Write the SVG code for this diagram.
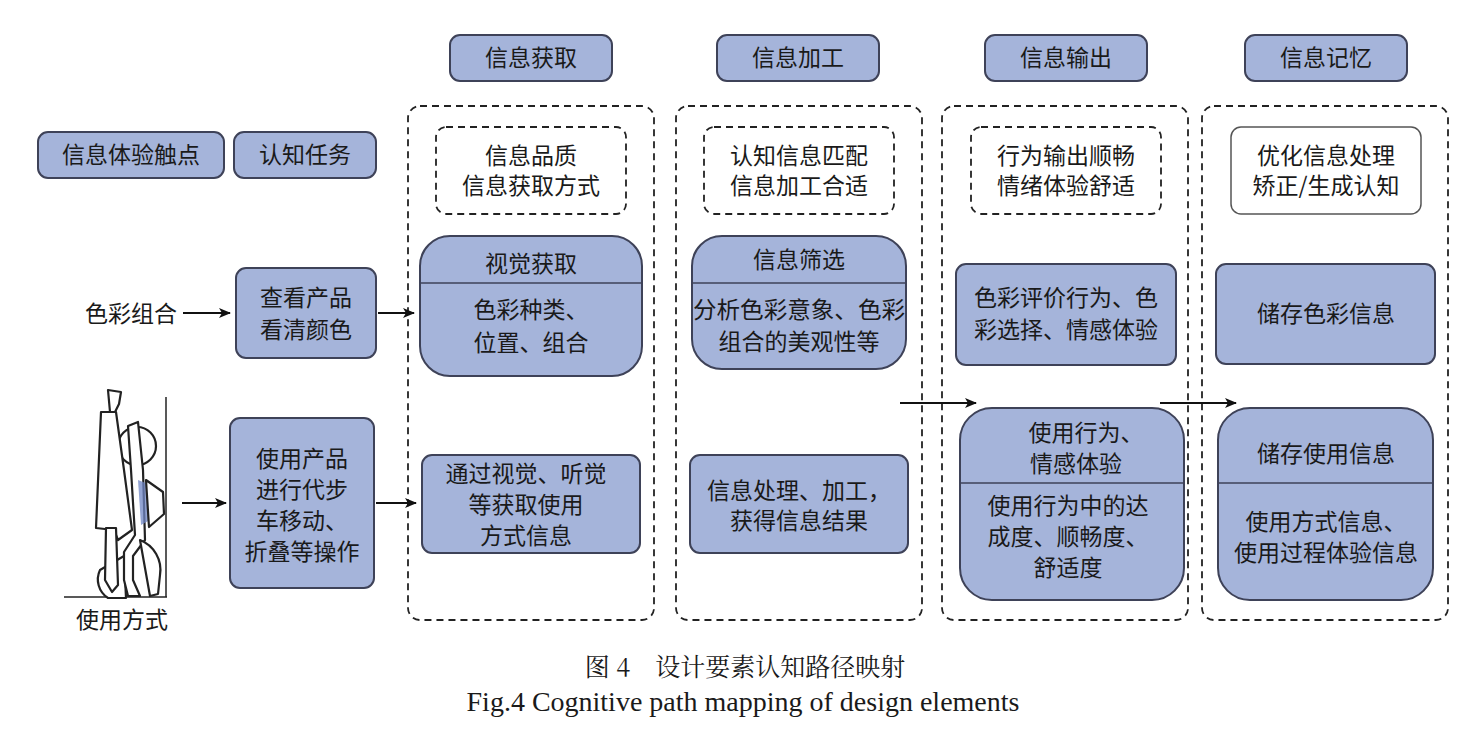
<svg xmlns="http://www.w3.org/2000/svg" width="1466" height="732" viewBox="0 0 1466 732">
<style>
.f{fill:#a5b4da;stroke:#3e4258;stroke-width:2}
.d{fill:none;stroke:#222;stroke-width:1.8;stroke-dasharray:7,5}
.t{font-family:"Noto Sans CJK SC",sans-serif;font-size:23px;fill:#1a1a1a;text-anchor:middle}
.c{stroke:#111;stroke-width:1.8;fill:none;marker-end:url(#a)}
.s{fill:#fff;stroke:#222;stroke-width:2.2;stroke-linejoin:round}
</style>
<defs><marker id="a" markerWidth="12" markerHeight="10" refX="11" refY="5" orient="auto" markerUnits="userSpaceOnUse"><path d="M0,0 L12,5 L0,10 L3,5 Z" fill="#111"/></marker></defs>
<rect width="1466" height="732" fill="#fff"/>
<g id="headers">
<rect class="f" x="450" y="35" width="162" height="46" rx="10"/><text class="t" x="531" y="66">信息获取</text>
<rect class="f" x="717" y="35" width="162" height="46" rx="10"/><text class="t" x="798" y="66">信息加工</text>
<rect class="f" x="985" y="35" width="162" height="46" rx="10"/><text class="t" x="1066" y="66">信息输出</text>
<rect class="f" x="1245" y="35" width="162" height="46" rx="10"/><text class="t" x="1326" y="66">信息记忆</text>
<rect class="f" x="38" y="132" width="186" height="46" rx="10"/><text class="t" x="131" y="163">信息体验触点</text>
<rect class="f" x="234" y="132" width="142" height="46" rx="10"/><text class="t" x="305" y="163">认知任务</text>
</g>
<g id="columns">
<rect class="d" x="408" y="106" width="246" height="514" rx="12"/>
<rect class="d" x="676" y="106" width="246" height="514" rx="12"/>
<rect class="d" x="942" y="106" width="246" height="514" rx="12"/>
<rect class="d" x="1202" y="106" width="246" height="514" rx="12"/>
</g>
<g id="goals">
<rect class="d" x="436" y="127" width="190" height="87" rx="10"/><text class="t" x="531" y="164">信息品质</text><text class="t" x="531" y="194">信息获取方式</text>
<rect class="d" x="704" y="127" width="190" height="87" rx="10"/><text class="t" x="799" y="164">认知信息匹配</text><text class="t" x="799" y="194">信息加工合适</text>
<rect class="d" x="971" y="127" width="190" height="87" rx="10"/><text class="t" x="1066" y="164">行为输出顺畅</text><text class="t" x="1066" y="194">情绪体验舒适</text>
<rect x="1231" y="127" width="190" height="87" rx="10" fill="#fff" stroke="#555" stroke-width="1.5"/><text class="t" x="1326" y="164">优化信息处理</text><text class="t" x="1326" y="194">矫正/生成认知</text>
</g>
<g id="n1"><rect class="f" x="420" y="236" width="222" height="140" rx="30"/><line x1="420" y1="283" x2="642" y2="283" stroke="#3e4258" stroke-width="1.5"/>
<text class="t" x="531" y="272">视觉获取</text><text class="t" x="531" y="318">色彩种类、</text><text class="t" x="531" y="351">位置、组合</text></g>
<g id="n2"><rect class="f" x="422" y="455" width="218" height="98" rx="10"/><text class="t" x="526" y="482">通过视觉、听觉</text><text class="t" x="526" y="513">等获取使用</text><text class="t" x="526" y="544">方式信息</text></g>
<g id="n3"><rect class="f" x="692" y="236" width="214" height="133" rx="30"/><line x1="692" y1="283" x2="906" y2="283" stroke="#3e4258" stroke-width="1.5"/>
<text class="t" x="799" y="268">信息筛选</text><text class="t" x="799" y="318" textLength="212" lengthAdjust="spacingAndGlyphs">分析色彩意象、色彩</text><text class="t" x="799" y="350">组合的美观性等</text></g>
<g id="n4"><rect class="f" x="690" y="455" width="218" height="98" rx="10"/><text class="t" x="799" y="499">信息处理、加工，</text><text class="t" x="799" y="529">获得信息结果</text></g>
<g id="n5"><rect class="f" x="956" y="264" width="220" height="101" rx="10"/><text class="t" x="1066" y="306">色彩评价行为、色</text><text class="t" x="1066" y="338">彩选择、情感体验</text></g>
<g id="n6"><rect class="f" x="960" y="408" width="224" height="192" rx="32"/><line x1="960" y1="483" x2="1184" y2="483" stroke="#3e4258" stroke-width="1.5"/>
<text class="t" x="1086" y="441">使用行为、</text><text class="t" x="1076" y="472">情感体验</text><text class="t" x="1068" y="514">使用行为中的达</text><text class="t" x="1068" y="545">成度、顺畅度、</text><text class="t" x="1068" y="576">舒适度</text></g>
<g id="n7"><rect class="f" x="1216" y="264" width="219" height="100" rx="10"/><text class="t" x="1326" y="322">储存色彩信息</text></g>
<g id="n8"><rect class="f" x="1218" y="408" width="215" height="192" rx="32"/><line x1="1218" y1="483" x2="1433" y2="483" stroke="#3e4258" stroke-width="1.5"/>
<text class="t" x="1326" y="462">储存使用信息</text><text class="t" x="1326" y="530">使用方式信息、</text><text class="t" x="1326" y="561">使用过程体验信息</text></g>
<g id="n9"><rect class="f" x="236" y="268" width="140" height="90" rx="10"/><text class="t" x="306" y="306">查看产品</text><text class="t" x="306" y="338">看清颜色</text></g>
<g id="n10"><rect class="f" x="230" y="418" width="144" height="170" rx="10"/><text class="t" x="302" y="467">使用产品</text><text class="t" x="302" y="498">进行代步</text><text class="t" x="302" y="529">车移动、</text><text class="t" x="302" y="560">折叠等操作</text></g>
<g id="touch">
<text class="t" x="131" y="322">色彩组合</text>
<text class="t" x="122" y="628">使用方式</text>
<g id="stroller">
<line x1="64" y1="597" x2="167" y2="597" stroke="#222" stroke-width="1.5"/>
<line x1="166" y1="397" x2="166" y2="597" stroke="#222" stroke-width="1.5"/>
<circle cx="137" cy="446" r="19" class="s"/>
<path class="s" d="M108,390 L121,392 L119,404 L114,414 L110,412 Z"/>
<path class="s" d="M101,412 L116,412 L124,470 L132,530 L118,540 L114,530 L96,528 Z"/>
<path class="s" d="M100,570 A22,22 0 0 0 108,598 L126,598 L124,556 Z"/>
<path class="s" d="M106,528 L116,528 L118,585 L112,592 L105,580 Z"/>
<path class="s" d="M128,426 L138,422 L143,470 L145,540 L133,556 L133,580 L140,596 L128,596 L124,580 L124,552 L135,535 L131,470 Z"/>
<path d="M138,480 L148,484 L150,520 L141,525 Z" fill="#6f86c4" opacity="0.75"/>
<path class="s" d="M146,480 L163,492 L164,514 L149,527 Z"/>
<path class="s" d="M140,540 A32,32 0 0 1 160,575 L158,594 L150,596 Z"/>
</g>
</g>
<g id="connectors">
<line class="c" x1="183" y1="313" x2="230" y2="313"/>
<line class="c" x1="378" y1="313" x2="414" y2="313"/>
<line class="c" x1="182" y1="503" x2="226" y2="503"/>
<line class="c" x1="376" y1="503" x2="416" y2="503"/>
<line class="c" x1="900" y1="403" x2="976" y2="403"/>
<line class="c" x1="1160" y1="403" x2="1236" y2="403"/>
</g>
<g id="caption" fill="#1a1a1a" text-anchor="middle">
<text x="745" y="676" font-size="25" font-family="Noto Serif CJK SC, Noto Sans CJK SC, serif">图 4　设计要素认知路径映射</text>
<text x="743" y="711" font-size="28" font-family="Liberation Serif, serif">Fig.4 Cognitive path mapping of design elements</text>
</g>
</svg>
